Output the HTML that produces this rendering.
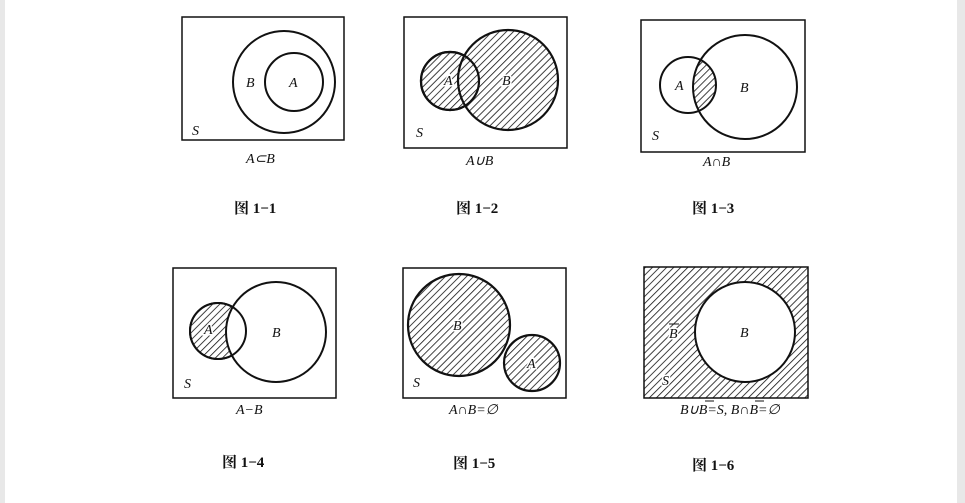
<!DOCTYPE html>
<html><head><meta charset="utf-8"><style>
html,body{margin:0;padding:0;background:#fff;}
body{width:965px;height:503px;overflow:hidden;position:relative;}
svg{position:absolute;left:0;top:0;}
.l{font-family:"Liberation Serif",serif;font-style:italic;font-size:14px;}
.c{font-family:"Liberation Serif","Noto Serif CJK SC",serif;font-size:15px;font-weight:bold;}
</style></head><body>
<svg width="965" height="503" viewBox="0 0 965 503">
<defs>
<pattern id="h" patternUnits="userSpaceOnUse" width="5" height="5" patternTransform="rotate(45)">
<rect width="5" height="5" fill="#fff"/><line x1="0" y1="0" x2="0" y2="5" stroke="#111" stroke-width="1.6"/>
</pattern>
<clipPath id="c3"><circle cx="688" cy="85" r="28"/></clipPath>
</defs>
<rect x="0" y="0" width="5" height="503" fill="#e8e8e8"/>
<rect x="957" y="0" width="8" height="503" fill="#e8e8e8"/>
<g fill="none" stroke="#111">
<!-- 1 -->
<rect x="182" y="17" width="162" height="123" stroke-width="1.5"/>
<circle cx="284" cy="82" r="51" stroke-width="2"/>
<circle cx="294" cy="82" r="29" stroke-width="2"/>
<!-- 2 -->
<rect x="404" y="17" width="163" height="131" stroke-width="1.5"/>
<circle cx="450" cy="81" r="29" fill="url(#h)" stroke-width="2.2"/>
<circle cx="508" cy="80" r="50" fill="url(#h)" stroke-width="2.2"/>
<circle cx="450" cy="81" r="29" stroke-width="2.2"/>
<!-- 3 -->
<rect x="641" y="20" width="164" height="132" stroke-width="1.5"/>
<circle cx="745" cy="87" r="52" fill="url(#h)" stroke="none" clip-path="url(#c3)"/>
<circle cx="688" cy="85" r="28" stroke-width="2"/>
<circle cx="745" cy="87" r="52" stroke-width="2"/>
<!-- 4 -->
<rect x="173" y="268" width="163" height="130" stroke-width="1.5"/>
<circle cx="218" cy="331" r="28" fill="url(#h)" stroke-width="2"/>
<circle cx="276" cy="332" r="50" fill="#fff" stroke-width="2"/>
<circle cx="218" cy="331" r="28" stroke-width="2"/>
<!-- 5 -->
<rect x="403" y="268" width="163" height="130" stroke-width="1.5"/>
<circle cx="459" cy="325" r="51" fill="url(#h)" stroke-width="2.2"/>
<circle cx="532" cy="363" r="28" fill="url(#h)" stroke-width="2.2"/>
<!-- 6 -->
<rect x="644" y="267" width="164" height="131" fill="url(#h)" stroke-width="1.5"/>
<circle cx="745" cy="332" r="50" fill="#fff" stroke-width="2"/>
</g>
<g class="l" fill="#111">
<text x="246" y="87">B</text><text x="289" y="87">A</text><text x="192" y="135">S</text>
<text x="444" y="85" fill="#fff" stroke="#fff" stroke-width="3">A</text><text x="444" y="85">A</text>
<text x="502" y="85" fill="#fff" stroke="#fff" stroke-width="3">B</text><text x="502" y="85">B</text>
<text x="416" y="137">S</text>
<text x="675" y="90">A</text><text x="740" y="92">B</text><text x="652" y="140">S</text>
<text x="204" y="334" fill="#fff" stroke="#fff" stroke-width="3">A</text><text x="204" y="334">A</text>
<text x="272" y="337">B</text><text x="184" y="388">S</text>
<text x="453" y="330" fill="#fff" stroke="#fff" stroke-width="3">B</text><text x="453" y="330">B</text>
<text x="527" y="368" fill="#fff" stroke="#fff" stroke-width="3">A</text><text x="527" y="368">A</text>
<text x="413" y="387">S</text>
<text x="669" y="338" fill="#fff" stroke="#fff" stroke-width="3">B</text><text x="669" y="338">B</text>
<line x1="669" y1="324" x2="679" y2="324" stroke="#111" stroke-width="1"/>
<text x="740" y="337">B</text>
<text x="662" y="385" fill="#fff" stroke="#fff" stroke-width="3">S</text><text x="662" y="385">S</text>
<text x="246" y="163">A⊂B</text>
<text x="466" y="165">A∪B</text>
<text x="703" y="166">A∩B</text>
<text x="236" y="414">A−B</text>
<text x="449" y="414">A∩B=∅</text>
<text x="680" y="414">B∪B=S, B∩B=∅</text>
<line x1="705" y1="401" x2="714" y2="401" stroke="#111" stroke-width="1"/>
<line x1="755" y1="401" x2="764" y2="401" stroke="#111" stroke-width="1"/>
</g>
<g class="c" fill="#111">
<text x="234" y="213">图 1−1</text>
<text x="456" y="213">图 1−2</text>
<text x="692" y="213">图 1−3</text>
<text x="222" y="467">图 1−4</text>
<text x="453" y="468">图 1−5</text>
<text x="692" y="470">图 1−6</text>
</g>
</svg>
</body></html>
